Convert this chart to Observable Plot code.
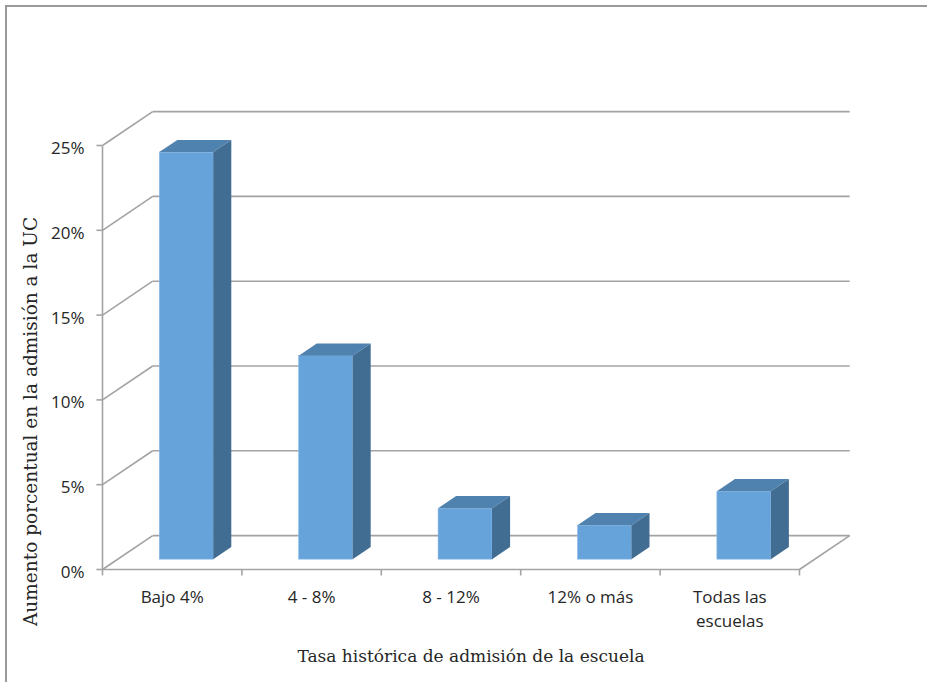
<!DOCTYPE html>
<html>
<head>
<meta charset="utf-8">
<script src="https://cdn.jsdelivr.net/npm/d3@7"></script>
<script src="https://cdn.jsdelivr.net/npm/@observablehq/plot@0.6"></script>
<style>
  html, body { margin: 0; padding: 0; background: #fff; }
  #wrap { position: relative; width: 927px; height: 682px; overflow: hidden; }
  #frame { position: absolute; left: 5px; top: 5px; width: 940px; height: 700px;
           border-top: 2px solid #9a9a9a; border-left: 2px solid #9a9a9a; box-sizing: border-box; }
  #chart { position: absolute; left: 0; top: 0; }
</style>
</head>
<body>
<div id="wrap"><div id="frame"></div><div id="chart"></div></div>
<script>
// ---- data ----
const categories = ["Bajo 4%", "4 - 8%", "8 - 12%", "12% o más", "Todas las\nescuelas"];
const values = [24, 12, 3, 2, 4];
const yTicks = [0, 5, 10, 15, 20, 25];
const xTitle = "Tasa histórica de admisión de la escuela";
const yTitle = "Aumento porcentual en la admisión a la UC";

// ---- 3D geometry (in scale units) ----
const n = categories.length;
const depthX = 0.36, depthY = 2;      // floor depth offset
const f0 = 0.29, f1 = 0.65;           // bar front/back depth fractions
const barW = 0.387;

const bars = categories.map((c, i) => {
  const xl = i + 0.5 - barW / 2 + f0 * depthX;
  const xr = xl + barW;
  const y0 = f0 * depthY;
  return {c, v: values[i], xl, xr, y0, y1: y0 + values[i]};
});
const bdx = (f1 - f0) * depthX, bdy = (f1 - f0) * depthY;

const topPts = bars.flatMap(b => [
  {c: b.c, y: b.y1, x1: b.xl, x2: b.xr},
  {c: b.c, y: b.y1 + bdy, x1: b.xl + bdx, x2: b.xr + bdx}
]);
const sidePts = bars.flatMap(b => [
  {c: b.c, x: b.xr, y1: b.y0, y2: b.y1},
  {c: b.c, x: b.xr + bdx, y1: b.y0 + bdy, y2: b.y1 + bdy}
]);

const grid = "#a3a3a3";
const gridDiag = yTicks.map(t => ({x1: 0, y1: t, x2: depthX, y2: t + depthY}));
const gridBack = yTicks.map(t => ({x1: depthX, y1: t + depthY, x2: n + depthX, y2: t + depthY}));
const boundaries = d3.range(n + 1);

const chart = Plot.plot({
  width: 927,
  height: 682,
  marginLeft: 102,
  marginRight: 128,
  marginTop: 145,
  marginBottom: 113,
  x: {domain: [0, n], axis: null},
  y: {domain: [0, 25], axis: null},
  style: {fontFamily: "'Open Sans', sans-serif", fontSize: "17px", color: "#262626", background: "transparent"},
  marks: [
    // walls / floor
    Plot.link(gridDiag, {x1: "x1", y1: "y1", x2: "x2", y2: "y2", stroke: grid, strokeWidth: 1.6}),
    Plot.link(gridBack, {x1: "x1", y1: "y1", x2: "x2", y2: "y2", stroke: grid, strokeWidth: 1.6}),
    Plot.link([{x1: n, y1: 0, x2: n + depthX, y2: depthY}], {x1: "x1", y1: "y1", x2: "x2", y2: "y2", stroke: grid, strokeWidth: 1.6}),
    Plot.link([{x1: 0, y1: 0, x2: n, y2: 0}], {x1: "x1", y1: "y1", x2: "x2", y2: "y2", stroke: grid, strokeWidth: 1.6}),
    Plot.link([{x1: 0, y1: 0, x2: 0, y2: 25}], {x1: "x1", y1: "y1", x2: "x2", y2: "y2", stroke: grid, strokeWidth: 1.6}),
    // tick marks
    Plot.ruleY(yTicks, {y: d => d, x1: -0.04, x2: 0, stroke: grid, strokeWidth: 1.6}),
    Plot.ruleX(boundaries, {x: d => d, y1: 0, y2: -0.38, stroke: grid, strokeWidth: 1.6}),
    // bars
    Plot.rect(bars, {x1: "xl", x2: "xr", y1: "y0", y2: "y1", fill: "#66a3da", stroke: "#8dbbe6", strokeWidth: 0.6}),
    Plot.areaX(topPts, {y: "y", x1: "x1", x2: "x2", z: "c", fill: "#4f82ae", curve: "linear"}),
    Plot.areaY(sidePts, {x: "x", y1: "y1", y2: "y2", z: "c", fill: "#426d92", curve: "linear"}),
    // tick labels
    Plot.text(yTicks, {x: 0, y: d => d, text: d => d + "%", textAnchor: "end", dx: -18, dy: 3, fontSize: 17, fill: "#262626"}),
    Plot.text(categories, {x: (d, i) => i + 0.5, y: 0, text: d => d, dy: 17, lineHeight: 1.4, lineAnchor: "top", fontSize: 17, fill: "#262626"}),
    // axis titles
    Plot.text([yTitle], {x: -0.515, y: 8.73, text: d => d, rotate: -90, fontFamily: "DejaVu Serif, serif", fontSize: 18.5, fill: "#262626"}),
    Plot.text([xTitle], {frameAnchor: "bottom", text: d => d, dx: 20, dy: 92, fontFamily: "DejaVu Serif, serif", fontSize: 17, fill: "#262626"})
  ]
});
document.getElementById("chart").appendChild(chart);
</script>
</body>
</html>
